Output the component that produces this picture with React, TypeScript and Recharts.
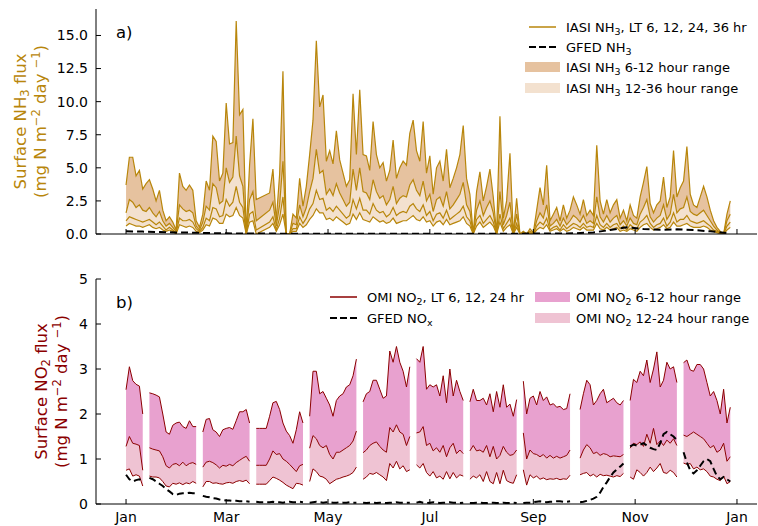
import React from "react";
import { ComposedChart, Area, Line, XAxis, YAxis } from "recharts";

// x axis: day of year (leap year), Jan 1 = 0
const MONTH_TICKS = [0, 60, 121, 182, 244, 305, 366];
const MONTH_LABELS = ["Jan", "Mar", "May", "Jul", "Sep", "Nov", "Jan"];
const X_DOMAIN = [-18, 378];

const NH3_TICKS = [0, 2.5, 5, 7.5, 10, 12.5, 15];
const NO2_TICKS = [0, 1, 2, 3, 4, 5];

// IASI NH3 flux, one value every 2nd day from Jan 1 (null = no retrieval)
const NH3_STEP = 2;
const NH3_6H = [
  3.7, 5.8, 5.8, 4.4, 4.8, 3.4, 3.8, 4.1, 3.4, 2.5,
  3.3, 1.8, 1.0, 1.3, 0.9, 0.3, 4.6, 3.6, 3.3, 3.7,
  3.3, 1.0, 0.5, 1.5, 4.0, 3.3, 7.4, 7.0, 4.0, 4.6,
  9.9, 6.8, 6.9, 16.1, 9.0, 9.4, 0, 5.2, 8.7, 2.6,
  null, null, null, 3.1, 4.9, 1.0, 4.5, 12.3, 0, 0,
  1.5, 1.2, 4.2, 2.1, 3.6, 6.0, 8.6, 14.6, 9.6, 10.5,
  5.5, 6.3, 5.3, 7.8, 5.6, 4.6, 3.6, 4.1, 10.6, 6.0,
  10.9, 6.0, 5.9, 4.8, 8.5, 6.0, 5.0, 5.4, 4.0, 4.8,
  7.1, 4.2, 5.0, 5.5, 5.2, 7.6, 8.6, 6.3, 5.5, 8.5,
  4.6, 5.9, 3.0, 5.0, 5.5, 4.0, 6.4, 3.5, 4.2, 5.0,
  6.0, 8.2, 4.2, 3.0, 0, 3.2, 4.7, 2.5, 3.6, 4.9,
  2.8, 0, 8.9, 1.2, 2.5, 6.1, 0, 2.7, 0, 0.2,
  0, 0.4, 0.1, 1.8, 3.5, 2.2, 5.2, 1.0, 1.5, 2.0,
  1.0, 2.2, 1.2, 1.8, 2.8, 2.2, 1.5, 2.6, 1.4, 1.8,
  1.4, 6.7, 2.5, 1.5, 2.6, 1.6, 2.2, 2.6, 1.2, 1.8,
  1.0, 2.2, 1.4, 1.2, 2.8, 3.9, 5.1, 2.3, 1.6, 2.2,
  2.5, 4.3, 2.0, 2.8, 6.3, 2.8, 3.5, 4.0, 6.6, 3.0,
  2.2, 2.0, 2.8, 3.6, 2.8, 1.8, 1.0, 0.5, 0.2, 0,
  1.5, 2.5,
];
const NH3_12H = [
  1.6, 2.6, 2.4, 2.0, 2.2, 1.8, 1.7, 2.0, 1.6, 1.3,
  1.7, 1.0, 0.6, 0.8, 0.5, 0.2, 2.2, 1.9, 1.7, 1.8,
  1.6, 0.6, 0.3, 0.9, 2.1, 1.8, 3.8, 3.5, 2.3, 2.5,
  5.0, 3.9, 4.3, 7.4, 4.4, 3.6, 0, 2.6, 3.2, 1.0,
  null, null, null, 1.8, 2.4, 0.6, 2.2, 5.5, 0, 0,
  0.8, 0.7, 2.2, 1.3, 2.0, 3.2, 4.2, 6.4, 4.6, 4.8,
  3.0, 3.4, 2.9, 3.8, 3.1, 2.6, 2.1, 2.4, 4.9, 3.3,
  5.0, 3.2, 3.1, 2.6, 4.1, 3.2, 2.7, 2.9, 2.2, 2.6,
  3.6, 2.3, 2.7, 2.9, 2.8, 3.7, 4.1, 3.3, 2.9, 4.0,
  2.5, 3.0, 1.7, 2.6, 2.8, 2.1, 3.2, 1.9, 2.2, 2.6,
  3.0, 3.9, 2.2, 1.7, 0, 1.8, 2.5, 1.4, 2.0, 2.5,
  1.6, 0, 3.2, 0.7, 1.4, 2.4, 0, 1.5, 0, 0.1,
  0, 0.2, 0.05, 1.0, 1.6, 1.2, 2.2, 0.6, 0.8, 1.1,
  0.6, 1.2, 0.7, 1.0, 1.4, 1.2, 0.9, 1.4, 0.8, 1.0,
  0.8, 2.8, 1.3, 0.9, 1.4, 0.9, 1.2, 1.4, 0.7, 1.0,
  0.6, 1.2, 0.8, 0.7, 1.5, 2.0, 2.6, 1.3, 0.9, 1.2,
  1.4, 2.2, 1.1, 1.5, 3.0, 1.6, 1.9, 2.0, 2.8, 1.7,
  1.5, 1.4, 1.6, 1.8, 1.4, 1.0, 0.6, 0.3, 0.1, 0,
  1.0, 1.5,
];
const NH3_24H = [
  1.0, 1.3, 1.2, 1.1, 1.0, 0.9, 1.0, 1.1, 0.9, 0.7,
  0.9, 0.6, 0.3, 0.5, 0.3, 0.1, 1.2, 1.0, 1.0, 1.1,
  0.9, 0.4, 0.2, 0.5, 1.2, 1.0, 2.0, 1.9, 1.3, 1.4,
  2.6, 2.1, 2.4, 3.6, 2.4, 2.0, 0, 1.5, 1.7, 0.3,
  null, null, null, 0.9, 1.3, 0.3, 1.2, 2.8, 0, 0,
  0.4, 0.4, 1.3, 0.8, 1.2, 1.9, 2.3, 3.3, 2.6, 2.7,
  1.8, 2.0, 1.7, 2.1, 1.8, 1.5, 1.2, 1.4, 2.6, 1.9,
  2.7, 1.8, 1.8, 1.5, 2.3, 1.8, 1.6, 1.7, 1.3, 1.5,
  2.0, 1.4, 1.6, 1.7, 1.6, 2.1, 2.3, 1.9, 1.7, 2.2,
  1.4, 1.7, 1.0, 1.5, 1.6, 1.2, 1.8, 1.1, 1.3, 1.5,
  1.7, 2.1, 1.3, 1.0, 0, 1.1, 1.4, 0.8, 1.1, 1.4,
  0.9, 0, 1.5, 0.4, 0.8, 1.2, 0, 0.8, 0, 0.05,
  0, 0.1, 0, 0.6, 0.9, 0.7, 1.2, 0.3, 0.5, 0.6,
  0.3, 0.7, 0.4, 0.6, 0.8, 0.7, 0.5, 0.8, 0.5, 0.6,
  0.5, 1.4, 0.7, 0.5, 0.8, 0.5, 0.7, 0.8, 0.4, 0.6,
  0.3, 0.7, 0.5, 0.4, 0.9, 1.1, 1.4, 0.8, 0.5, 0.7,
  0.8, 1.2, 0.6, 0.9, 1.6, 0.9, 1.1, 1.1, 1.4, 1.0,
  0.9, 0.8, 0.9, 1.0, 0.8, 0.6, 0.3, 0.2, 0.05, 0,
  0.6, 0.9,
];
const NH3_36H = [
  0.6, 0.8, 0.7, 0.6, 0.6, 0.5, 0.6, 0.7, 0.5, 0.4,
  0.5, 0.3, 0.2, 0.3, 0.2, 0.0, 0.7, 0.6, 0.5, 0.6,
  0.5, 0.2, 0.1, 0.3, 0.7, 0.6, 1.2, 1.1, 0.8, 0.8,
  1.5, 1.3, 1.4, 2.0, 1.4, 1.2, 0, 0.9, 1.0, 0.0,
  null, null, null, 0.5, 0.8, 0.2, 0.7, 1.5, 0, 0,
  0.2, 0.2, 0.8, 0.5, 0.7, 1.1, 1.4, 1.9, 1.6, 1.6,
  1.1, 1.2, 1.0, 1.3, 1.1, 0.9, 0.7, 0.8, 1.5, 1.1,
  1.6, 1.1, 1.0, 0.9, 1.3, 1.1, 0.9, 1.0, 0.8, 0.9,
  1.2, 0.8, 0.9, 1.0, 1.0, 1.2, 1.4, 1.1, 1.0, 1.3,
  0.9, 1.0, 0.6, 0.9, 1.0, 0.7, 1.1, 0.7, 0.8, 0.9,
  1.0, 1.3, 0.8, 0.6, 0, 0.6, 0.9, 0.5, 0.7, 0.9,
  0.6, 0, 0.9, 0.2, 0.5, 0.7, 0, 0.5, 0, 0,
  0, 0.05, 0, 0.3, 0.5, 0.4, 0.7, 0.2, 0.3, 0.4,
  0.2, 0.4, 0.2, 0.3, 0.5, 0.4, 0.3, 0.5, 0.3, 0.3,
  0.3, 0.8, 0.4, 0.3, 0.5, 0.3, 0.4, 0.5, 0.2, 0.3,
  0.2, 0.4, 0.3, 0.2, 0.5, 0.7, 0.8, 0.5, 0.3, 0.4,
  0.5, 0.7, 0.4, 0.5, 0.9, 0.6, 0.6, 0.7, 0.8, 0.6,
  0.5, 0.5, 0.5, 0.6, 0.5, 0.3, 0.2, 0.1, 0, 0,
  0.3, 0.5,
];

// GFED NH3, every 10th day
const GFED_NH3_STEP = 10;
const GFED_NH3 = [
  0.2, 0.18, 0.15, 0.12, 0.1, 0.07, 0.05, 0.04, 0.03, 0.03,
  0.02, 0.02, 0.02, 0.02, 0.02, 0.02, 0.02, 0.02, 0.02, 0.02,
  0.02, 0.02, 0.02, 0.02, 0.03, 0.03, 0.04, 0.06, 0.12, 0.3,
  0.5, 0.38, 0.32, 0.35, 0.3, 0.2, 0.08,
];

// OMI NO2 flux: monthly windows, one value every 2nd day from each start day
const NO2_STEP = 2;
const NO2_SEG_START = [0, 14, 46, 78, 110, 142, 174, 206, 238, 272, 302, 334];
const NO2_6H = [
  [2.54, 3.05, 2.74, 2.66, 2.62, 2.0],
  [2.47, 2.45, 2.42, 2.38, 2.0, 1.6, 1.55, 1.75, 1.8, 1.82, 1.72, 1.68, 1.85, 1.72, 1.72],
  [1.6, 1.88, 1.9, 1.65, 1.6, 1.5, 1.65, 1.68, 1.7, 1.66, 1.85, 2.05, 2.05, 2.1, 1.8],
  [1.68, 1.68, 1.68, 1.68, 1.95, 2.25, 2.28, 2.1, 1.8, 1.62, 1.52, 1.35, 1.65, 2.05, 1.8],
  [1.95, 2.95, 2.95, 2.45, 2.5, 2.35, 2.2, 1.95, 2.3, 2.4, 2.45, 2.6, 2.65, 2.85, 3.22],
  [2.27, 2.45, 2.5, 2.75, 2.75, 2.55, 2.35, 2.4, 3.4, 3.15, 3.5, 3.15, 2.95, 2.6, 3.05],
  [3.23, 3.15, 3.5, 2.55, 2.65, 2.6, 2.65, 2.4, 2.85, 2.25, 3.0, 2.4, 2.75, 2.5, 2.3],
  [2.27, 2.55, 2.3, 2.3, 2.35, 2.2, 2.45, 2.05, 2.5, 2.15, 2.65, 2.15, 2.22, 1.95, 2.32],
  [2.73, 2.0, 2.35, 2.4, 2.2, 2.5, 2.3, 2.38, 2.2, 2.23, 2.15, 2.17, 2.1, 2.12, 2.45],
  [2.1, 2.45, 2.75, 2.65, 2.2, 2.3, 2.45, 2.55, 2.25, 2.3, 2.35, 2.25, 2.2, 2.3],
  [2.3, 2.77, 2.7, 2.95, 2.85, 3.2, 2.7, 3.0, 3.38, 2.6, 2.75, 3.15, 3.0, 3.05, 2.7],
  [3.14, 3.2, 2.98, 2.95, 3.1, 3.1, 3.0, 2.7, 2.4, 2.5, 2.3, 2.0, 2.55, 1.8, 2.15],
];
const NO2_12H = [
  [1.28, 1.5, 1.35, 1.33, 1.3, 0.75],
  [1.25, 1.22, 1.2, 1.18, 1.05, 0.85, 0.8, 0.88, 0.9, 0.85, 0.93, 0.85, 0.9, 0.92, 0.88],
  [0.82, 0.93, 0.95, 0.92, 0.87, 0.8, 0.86, 0.84, 0.88, 0.85, 0.92, 0.97, 1.02, 1.06, 0.95],
  [0.86, 0.86, 0.86, 0.86, 1.0, 1.18, 1.1, 1.12, 1.0, 0.95, 0.88, 0.8, 0.72, 0.85, 0.88],
  [1.24, 1.52, 1.45, 1.3, 1.25, 1.3, 1.1, 1.0, 1.15, 1.15, 1.2, 1.25, 1.3, 1.4, 1.62],
  [1.14, 1.2, 1.3, 1.35, 1.38, 1.28, 1.2, 1.15, 1.7, 1.6, 1.76, 1.6, 1.55, 1.3, 1.5],
  [1.58, 1.6, 1.72, 1.3, 1.35, 1.18, 1.25, 1.15, 1.3, 1.05, 1.25, 1.35, 1.12, 1.2, 1.12],
  [1.18, 1.3, 1.18, 1.2, 1.15, 1.3, 1.05, 1.28, 1.0, 1.08, 1.28, 1.15, 1.08, 1.1, 1.2],
  [1.58, 1.0, 1.2, 1.12, 1.1, 1.05, 1.1, 1.02, 1.08, 1.02, 1.06, 1.02, 1.05, 1.08, 1.2],
  [1.02, 1.2, 1.32, 1.25, 1.12, 1.15, 1.08, 1.12, 1.1, 1.05, 1.07, 1.06, 1.05, 1.1],
  [1.24, 1.35, 1.32, 1.38, 1.28, 1.55, 1.35, 1.68, 1.32, 1.4, 1.3, 1.42, 1.35, 1.45, 1.3],
  [1.53, 1.5, 1.55, 1.6, 1.55, 1.5, 1.45, 1.35, 1.25, 1.3, 1.15, 1.2, 1.35, 0.95, 1.05],
];
const NO2_24H = [
  [0.75, 0.78, 0.62, 0.65, 0.62, 0.4],
  [0.62, 0.6, 0.6, 0.58, 0.5, 0.4, 0.38, 0.46, 0.44, 0.47, 0.43, 0.47, 0.45, 0.5, 0.46],
  [0.38, 0.5, 0.5, 0.46, 0.47, 0.45, 0.44, 0.47, 0.48, 0.46, 0.5, 0.52, 0.5, 0.53, 0.45],
  [0.44, 0.44, 0.44, 0.44, 0.52, 0.6, 0.57, 0.53, 0.48, 0.42, 0.38, 0.34, 0.46, 0.45, 0.42],
  [0.5, 0.78, 0.72, 0.62, 0.6, 0.55, 0.45, 0.5, 0.55, 0.57, 0.6, 0.62, 0.65, 0.7, 0.82],
  [0.55, 0.6, 0.68, 0.66, 0.7, 0.65, 0.6, 0.52, 0.9, 0.8, 0.95, 0.78, 0.85, 0.72, 0.76],
  [0.87, 0.8, 0.9, 0.7, 0.62, 0.72, 0.58, 0.62, 0.55, 0.72, 0.56, 0.7, 0.58, 0.65, 0.62],
  [0.55, 0.62, 0.58, 0.65, 0.5, 0.72, 0.5, 0.45, 0.7, 0.45, 0.75, 0.52, 0.48, 0.46, 0.65],
  [0.76, 0.42, 0.65, 0.58, 0.62, 0.55, 0.58, 0.54, 0.56, 0.55, 0.57, 0.54, 0.56, 0.55, 0.64],
  [0.65, 0.68, 0.7, 0.62, 0.66, 0.6, 0.66, 0.63, 0.64, 0.62, 0.6, 0.63, 0.61, 0.68],
  [0.6, 0.55, 0.76, 0.7, 0.62, 0.7, 0.82, 0.72, 0.8, 0.9, 0.7, 0.68, 0.75, 0.7, 0.6],
  [0.91, 0.88, 0.9, 0.78, 0.82, 0.76, 0.78, 0.72, 0.62, 0.6, 0.55, 0.52, 0.62, 0.45, 0.5],
];
const GFED_NOX = [
  [0.65, 0.55, 0.5, 0.53, 0.55, 0.5],
  [0.58, 0.55, 0.5, 0.45, 0.4, 0.33, 0.28, 0.22, 0.2, 0.23, 0.24, 0.24, 0.25, 0.24, 0.24],
  [0.18, 0.16, 0.15, 0.13, 0.12, 0.1, 0.09, 0.08, 0.08, 0.07, 0.07, 0.06, 0.06, 0.06, 0.05],
  [0.05, 0.04, 0.04, 0.04, 0.04, 0.05, 0.04, 0.04, 0.03, 0.04, 0.05, 0.04, 0.04, 0.05, 0.04],
  [0.03, 0.04, 0.05, 0.04, 0.03, 0.04, 0.04, 0.03, 0.03, 0.04, 0.03, 0.03, 0.04, 0.03, 0.03],
  [0.03, 0.02, 0.03, 0.03, 0.02, 0.03, 0.03, 0.02, 0.03, 0.03, 0.04, 0.03, 0.03, 0.03, 0.03],
  [0.03, 0.05, 0.03, 0.02, 0.03, 0.04, 0.03, 0.02, 0.03, 0.03, 0.04, 0.03, 0.03, 0.02, 0.03],
  [0.02, 0.02, 0.03, 0.03, 0.02, 0.02, 0.03, 0.03, 0.02, 0.02, 0.03, 0.02, 0.02, 0.03, 0.02],
  [0.02, 0.03, 0.03, 0.04, 0.05, 0.06, 0.05, 0.04, 0.05, 0.05, 0.06, 0.06, 0.05, 0.05, 0.06],
  [0.04, 0.05, 0.07, 0.09, 0.12, 0.16, 0.25, 0.38, 0.48, 0.6, 0.7, 0.77, 0.83, 0.9],
  [1.28, 1.32, 1.3, 1.32, 1.35, 1.3, 1.25, 1.22, 1.2, 1.35, 1.55, 1.6, 1.55, 1.5, 1.42],
  [1.15, 0.92, 0.75, 0.68, 0.75, 0.85, 0.95, 1.0, 0.95, 0.78, 0.62, 0.55, 0.6, 0.55, 0.5],
];

const FONT = "DejaVu Sans, sans-serif";
const NH3_COLOR = "#b8860b";
const NH3_BAND_DARK = "#e6c29f";
const NH3_BAND_LIGHT = "#f3e1cf";
const NO2_COLOR = "#8b0000";
const NO2_BAND_DARK = "#e8a1cf";
const NO2_BAND_LIGHT = "#efc3d3";

const nh3Rows = NH3_6H.map((h6, i) => {
  const h12 = NH3_12H[i];
  const h36 = NH3_36H[i];
  return {
    day: i * NH3_STEP,
    h6,
    h12,
    h24: NH3_24H[i],
    h36,
    band612: h6 == null ? null : [h12, h6],
    band1236: h6 == null ? null : [h36, h12],
  };
});
const gfedNh3Rows = GFED_NH3.map((v, i) => ({ day: i * GFED_NH3_STEP, gfed: v }));

const no2Rows: any[] = [];
NO2_SEG_START.forEach((start, s) => {
  NO2_6H[s].forEach((h6, j) => {
    const h12 = NO2_12H[s][j];
    const h24 = NO2_24H[s][j];
    no2Rows.push({
      day: start + j * NO2_STEP,
      h6, h12, h24,
      gfed: GFED_NOX[s][j],
      band612: [h12, h6],
      band1224: [h24, h12],
    });
  });
  // break the lines between the monthly windows
  const last = start + (NO2_6H[s].length - 1) * NO2_STEP;
  no2Rows.push({ day: last + NO2_STEP, h6: null, h12: null, h24: null, gfed: null, band612: null, band1224: null });
});

const XTick = ({ x, y, payload, showLabel }: any) => {
  const axisY = y - 8;
  const i = MONTH_TICKS.indexOf(payload.value);
  return (
    <g>
      <line x1={x} x2={x} y1={axisY} y2={axisY - 5} stroke="#000" strokeWidth={1} />
      {showLabel && (
        <text x={x} y={y} dy="0.71em" textAnchor="middle" fontSize={14} fontFamily={FONT} fill="#000">
          {MONTH_LABELS[i]}
        </text>
      )}
    </g>
  );
};

const YTick = ({ x, y, payload, digits }: any) => {
  const axisX = x + 8;
  return (
    <g>
      <line x1={axisX} x2={axisX + 5} y1={y} y2={y} stroke="#000" strokeWidth={1} />
      <text x={x} y={y} dy="0.35em" textAnchor="end" fontSize={14} fontFamily={FONT} fill="#000">
        {payload.value.toFixed(digits)}
      </text>
    </g>
  );
};

function Frame({ yMax }: { yMax: number }) {
  // top and right spines
  return [
    <XAxis key="ft" xAxisId="top" orientation="top" type="number" domain={X_DOMAIN} allowDataOverflow
      height={0} tick={false} tickLine={false} axisLine={{ stroke: "#000" }} />,
    <YAxis key="fr" yAxisId="right" orientation="right" type="number" domain={[0, yMax]} allowDataOverflow
      width={0} tick={false} tickLine={false} axisLine={{ stroke: "#000" }} />,
  ];
}

function NH3Panel() {
  return (
    <ComposedChart width={758} height={262} data={nh3Rows} margin={{ top: 9, right: 1, bottom: 0, left: 0 }}>
      <XAxis dataKey="day" type="number" domain={X_DOMAIN} allowDataOverflow ticks={MONTH_TICKS}
        height={28} tickSize={0} tickMargin={8} tickLine={false} axisLine={{ stroke: "#000" }}
        tick={(p: any) => <XTick {...p} showLabel={false} />} />
      <YAxis type="number" domain={[0, 17]} allowDataOverflow ticks={NH3_TICKS} width={96}
        tickSize={0} tickMargin={8} tickLine={false} axisLine={{ stroke: "#000" }}
        tick={(p: any) => <YTick {...p} digits={1} />} />
      {Frame({ yMax: 17 })}
      <Area dataKey="band612" type="linear" fill={NH3_BAND_DARK} fillOpacity={1} stroke="none" connectNulls isAnimationActive={false} />
      <Area dataKey="band1236" type="linear" fill={NH3_BAND_LIGHT} fillOpacity={1} stroke="none" connectNulls isAnimationActive={false} />
      {["h36", "h24", "h12", "h6"].map((k) => (
        <Line key={k} dataKey={k} type="linear" stroke={NH3_COLOR} strokeWidth={1.2} dot={false} connectNulls isAnimationActive={false} />
      ))}
      <Line data={gfedNh3Rows} dataKey="gfed" type="linear" stroke="#000" strokeWidth={2} strokeDasharray="7 4" dot={false} isAnimationActive={false} />
    </ComposedChart>
  );
}

function NO2Panel() {
  return (
    <ComposedChart width={758} height={264} data={no2Rows} margin={{ top: 17, right: 1, bottom: 0, left: 0 }}>
      <XAxis dataKey="day" type="number" domain={X_DOMAIN} allowDataOverflow ticks={MONTH_TICKS}
        height={22} tickSize={0} tickMargin={8} tickLine={false} axisLine={{ stroke: "#000" }}
        tick={(p: any) => <XTick {...p} showLabel />} />
      <YAxis type="number" domain={[0, 5]} allowDataOverflow ticks={NO2_TICKS} width={96}
        tickSize={0} tickMargin={8} tickLine={false} axisLine={{ stroke: "#000" }}
        tick={(p: any) => <YTick {...p} digits={0} />} />
      {Frame({ yMax: 5 })}
      <Area dataKey="band612" type="linear" fill={NO2_BAND_DARK} fillOpacity={1} stroke="none" isAnimationActive={false} />
      <Area dataKey="band1224" type="linear" fill={NO2_BAND_LIGHT} fillOpacity={1} stroke="none" isAnimationActive={false} />
      {["h24", "h12", "h6"].map((k) => (
        <Line key={k} dataKey={k} type="linear" stroke={NO2_COLOR} strokeWidth={1} dot={false} isAnimationActive={false} />
      ))}
      <Line dataKey="gfed" type="linear" stroke="#000" strokeWidth={2} strokeDasharray="7 4" dot={false} isAnimationActive={false} />
    </ComposedChart>
  );
}

function Overlay() {
  return (
    <svg width={758} height={526} style={{ position: "absolute", left: 0, top: 0, pointerEvents: "none" }}
      fontFamily={FONT}>
      {/* axis titles */}
      <g fill={NH3_COLOR} fontSize={16.5} textAnchor="middle">
        <text x={20} y={121.5} dy="0.35em" transform="rotate(-90 20 121.5)">
          Surface NH<tspan fontSize={11.5} dy={3}>3</tspan><tspan dy={-3}> flux</tspan>
        </text>
        <text x={40} y={121.5} dy="0.35em" transform="rotate(-90 40 121.5)">
          (mg N m<tspan fontSize={11.5} dy={-6}>−2</tspan><tspan dy={6}> day </tspan>
          <tspan fontSize={11.5} dy={-6}>−1</tspan><tspan dy={6}>)</tspan>
        </text>
      </g>
      <g fill={NO2_COLOR} fontSize={16.5} textAnchor="middle">
        <text x={41} y={391.5} dy="0.35em" transform="rotate(-90 41 391.5)">
          Surface NO<tspan fontSize={11.5} dy={3}>2</tspan><tspan dy={-3}> flux</tspan>
        </text>
        <text x={61} y={391.5} dy="0.35em" transform="rotate(-90 61 391.5)">
          (mg N m<tspan fontSize={11.5} dy={-6}>−2</tspan><tspan dy={6}> day </tspan>
          <tspan fontSize={11.5} dy={-6}>−1</tspan><tspan dy={6}>)</tspan>
        </text>
      </g>

      {/* panel tags */}
      <text x={116} y={38} fontSize={16.5} fill="#000">a)</text>
      <text x={116} y={308} fontSize={16.5} fill="#000">b)</text>

      {/* legend a */}
      <g fontSize={13} fill="#000">
        <line x1={529} x2={556} y1={27} y2={27} stroke={NH3_COLOR} strokeWidth={1.5} />
        <text x={566} y={27} dy="0.35em">
          IASI NH<tspan fontSize={9.5} dy={3}>3</tspan><tspan dy={-3}>, LT 6, 12, 24, 36 hr</tspan>
        </text>
        <line x1={529} x2={556} y1={47} y2={47} stroke="#000" strokeWidth={2} strokeDasharray="7 3" />
        <text x={566} y={47} dy="0.35em">
          GFED NH<tspan fontSize={9.5} dy={3}>3</tspan>
        </text>
        <rect x={525} y={62} width={35} height={10} fill={NH3_BAND_DARK} />
        <text x={566} y={67} dy="0.35em">
          IASI NH<tspan fontSize={9.5} dy={3}>3</tspan><tspan dy={-3}> 6-12 hour range</tspan>
        </text>
        <rect x={525} y={83} width={35} height={10} fill={NH3_BAND_LIGHT} />
        <text x={566} y={88} dy="0.35em">
          IASI NH<tspan fontSize={9.5} dy={3}>3</tspan><tspan dy={-3}> 12-36 hour range</tspan>
        </text>
      </g>

      {/* legend b */}
      <g fontSize={13} fill="#000">
        <line x1={330} x2={357} y1={297} y2={297} stroke={NO2_COLOR} strokeWidth={1.5} />
        <text x={367} y={297} dy="0.35em">
          OMI NO<tspan fontSize={9.5} dy={3}>2</tspan><tspan dy={-3}>, LT 6, 12, 24 hr</tspan>
        </text>
        <line x1={330} x2={357} y1={318} y2={318} stroke="#000" strokeWidth={2} strokeDasharray="7 3" />
        <text x={367} y={318} dy="0.35em">
          GFED NO<tspan fontSize={9.5} dy={3}>x</tspan>
        </text>
        <rect x={535} y={292} width={35} height={10} fill={NO2_BAND_DARK} />
        <text x={576} y={297} dy="0.35em">
          OMI NO<tspan fontSize={9.5} dy={3}>2</tspan><tspan dy={-3}> 6-12 hour range</tspan>
        </text>
        <rect x={535} y={313} width={35} height={10} fill={NO2_BAND_LIGHT} />
        <text x={576} y={318} dy="0.35em">
          OMI NO<tspan fontSize={9.5} dy={3}>2</tspan><tspan dy={-3}> 12-24 hour range</tspan>
        </text>
      </g>
    </svg>
  );
}

export default function App() {
  return (
    <div style={{ position: "absolute", left: 0, top: 0, width: 758, height: 526, background: "#fff" }}>
      <div style={{ position: "absolute", left: 0, top: 0 }}>
        <NH3Panel />
      </div>
      <div style={{ position: "absolute", left: 0, top: 262 }}>
        <NO2Panel />
      </div>
      <Overlay />
    </div>
  );
}
